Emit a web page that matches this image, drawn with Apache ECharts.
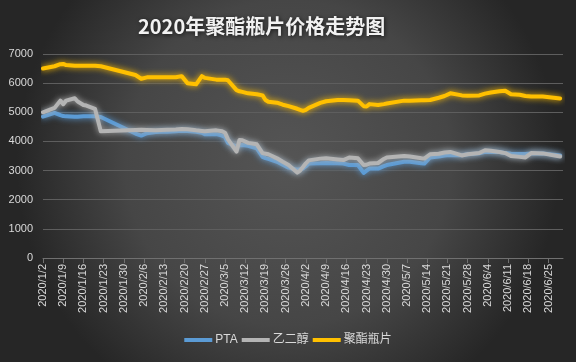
<!DOCTYPE html>
<html>
<head>
<meta charset="utf-8">
<script src="https://cdn.jsdelivr.net/npm/echarts@6/dist/echarts.min.js"></script>
<style>
html,body{margin:0;padding:0;background:#333;}
#c{width:576px;height:362px;}
</style>
</head>
<body>
<div id="c"></div>
<script>
// Axis domain: every calendar day from 2020/1/2 to 2020/6/30
var startDate = [2020, 1, 2];
var endDate = [2020, 6, 30];

// Sampled observation dates
var dates = [
 '2020/1/2','2020/1/6','2020/1/8','2020/1/9','2020/1/10','2020/1/13','2020/1/14','2020/1/16','2020/1/17','2020/1/20','2020/1/22',
 '2020/2/3','2020/2/5','2020/2/7','2020/2/10','2020/2/12','2020/2/14','2020/2/17','2020/2/19','2020/2/21','2020/2/24','2020/2/26','2020/2/27',
 '2020/3/2','2020/3/4','2020/3/5','2020/3/6','2020/3/9','2020/3/10','2020/3/11','2020/3/13','2020/3/16','2020/3/18','2020/3/19','2020/3/20','2020/3/23','2020/3/25','2020/3/27','2020/3/30','2020/3/31',
 '2020/4/1','2020/4/2','2020/4/3','2020/4/7','2020/4/9','2020/4/13','2020/4/15','2020/4/17','2020/4/20','2020/4/22','2020/4/23','2020/4/24','2020/4/27','2020/4/29','2020/4/30',
 '2020/5/6','2020/5/8','2020/5/12','2020/5/13','2020/5/15','2020/5/18','2020/5/20','2020/5/22','2020/5/26','2020/5/28',
 '2020/6/1','2020/6/3','2020/6/5','2020/6/8','2020/6/10','2020/6/12','2020/6/15','2020/6/17','2020/6/19','2020/6/23','2020/6/29'
];
var pta = [
 4850,4980,4900,4870,4860,4850,4850,4860,4860,4860,4840,
 4270,4200,4280,4320,4330,4330,4350,4370,4360,4330,4300,4250,
 4250,4200,4150,3950,3820,3870,3880,3850,3760,3470,3430,3400,3300,3200,3100,3030,3050,
 3070,3150,3240,3250,3260,3250,3240,3190,3190,2920,3000,3070,3070,3150,3190,
 3300,3300,3250,3240,3450,3480,3520,3530,3530,3560,
 3590,3640,3650,3640,3600,3580,3570,3570,3590,3590,3520
];
var meg = [
 5000,5150,5400,5280,5400,5480,5370,5250,5230,5120,4350,
 4390,4400,4390,4380,4390,4400,4410,4430,4420,4380,4360,4350,
 4380,4350,4300,4080,3650,4050,4040,3950,3900,3600,3580,3560,3420,3300,3190,2930,3000,
 3120,3250,3350,3410,3420,3380,3360,3450,3420,3190,3200,3240,3260,3400,3450,
 3500,3480,3420,3410,3560,3580,3620,3640,3520,3560,
 3600,3700,3680,3640,3600,3500,3470,3450,3600,3590,3480
];
var bottle = [
 6500,6580,6650,6660,6620,6600,6600,6600,6600,6600,6580,
 6280,6150,6200,6200,6200,6200,6200,6240,6000,5960,6240,6180,
 6120,6120,6120,6100,5760,5720,5700,5650,5620,5580,5420,5360,5330,5260,5210,5120,5080,
 5050,5080,5150,5320,5380,5420,5420,5410,5400,5210,5200,5280,5250,5280,5300,
 5400,5400,5410,5410,5420,5500,5560,5650,5580,5570,
 5580,5640,5680,5720,5740,5620,5600,5560,5540,5540,5470
];
var yTicks = {min: 0, max: 7000, interval: 1000};
var seriesNames = ['PTA', '乙二醇', '聚酯瓶片'];
var seriesColors = ['#5b9bd5', '#b4b4b4', '#ffc000'];

// build category axis
var categories = [];
var d = new Date(startDate[0], startDate[1] - 1, startDate[2]);
var e = new Date(endDate[0], endDate[1] - 1, endDate[2]);
while (d <= e) {
  categories.push(d.getFullYear() + '/' + (d.getMonth() + 1) + '/' + d.getDate());
  d.setDate(d.getDate() + 1);
}
function toSeries(vals) {
  var arr = categories.map(function () { return null; });
  dates.forEach(function (dt, i) {
    var k = categories.indexOf(dt);
    if (k >= 0) arr[k] = vals[i];
  });
  return arr;
}
var valueSets = [pta, meg, bottle];

var chart = echarts.init(document.getElementById('c'));
chart.setOption({
  backgroundColor: {
    type: 'radial', x: 0.5, y: 0.45, r: 0.75,
    colorStops: [{offset: 0, color: '#555555'}, {offset: 0.6, color: '#464646'}, {offset: 1, color: '#262626'}]
  },
  animation: false,
  title: {
    text: '2020年聚酯瓶片价格走势图',
    left: 133, top: 11,
    textStyle: {
      color: '#f2f2f2', fontSize: 20, fontWeight: 'bold',
      fontFamily: '"Noto Sans CJK SC", sans-serif',
      textShadowColor: 'rgba(0,0,0,0.7)', textShadowBlur: 4, textShadowOffsetX: 1, textShadowOffsetY: 1
    }
  },
  legend: {
    bottom: 11, left: 'center',
    itemWidth: 28, itemHeight: 4, itemGap: 4,
    icon: 'rect',
    textStyle: {color: '#d9d9d9', fontSize: 12, fontFamily: '"Liberation Sans", "Noto Sans CJK SC", sans-serif', padding: [0, 0, 0, -2]},
    data: seriesNames
  },
  grid: {left: 43, right: 13, top: 54, bottom: 104},
  xAxis: {
    type: 'category',
    data: categories,
    boundaryGap: false,
    axisLine: {lineStyle: {color: '#707070', width: 1}},
    axisTick: {show: true, interval: 6, length: 5, lineStyle: {color: '#707070'}},
    axisLabel: {
      interval: 6, rotate: 90, color: '#d9d9d9', fontSize: 11, margin: 6,
      fontFamily: '"Liberation Sans", Arial, sans-serif'
    },
    splitLine: {show: false}
  },
  yAxis: {
    type: 'value',
    min: yTicks.min, max: yTicks.max, interval: yTicks.interval,
    axisLine: {show: false},
    axisTick: {show: false},
    axisLabel: {
      color: '#d9d9d9', fontSize: 11, margin: 10, fontFamily: '"Liberation Sans", Arial, sans-serif',
      formatter: function (v) { return String(v); }
    },
    splitLine: {lineStyle: {color: '#5e5e5e', width: 1}}
  },
  series: seriesNames.map(function (n, i) {
    return {
      name: n, type: 'line',
      data: toSeries(valueSets[i]),
      connectNulls: true,
      showSymbol: false, symbol: 'none',
      itemStyle: {color: seriesColors[i]},
      lineStyle: {color: seriesColors[i], width: 4, shadowColor: seriesColors[i], shadowBlur: 6, cap: 'round', join: 'round'}
    };
  })
});
</script>
</body>
</html>
